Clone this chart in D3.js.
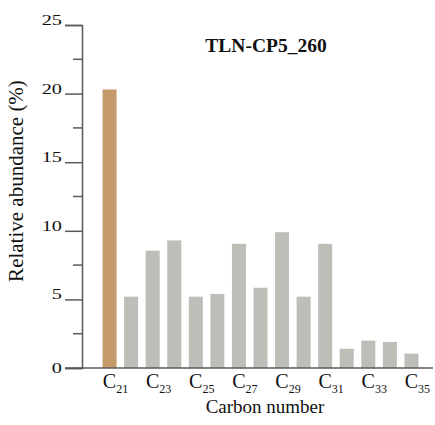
<!DOCTYPE html>
<html>
<head>
<meta charset="utf-8">
<script src="https://cdn.jsdelivr.net/npm/d3@7"></script>
<style>
  html, body { margin: 0; padding: 0; background: #fff; }
  svg { display: block; }
  text { font-family: "Liberation Serif", "Times New Roman", serif; fill: #111; }
</style>
</head>
<body>
<svg id="chart" width="435" height="425"></svg>
<script>
// Carbon numbers of the n-alkanes and their relative abundances (%)
const carbonNumbers = [21, 22, 23, 24, 25, 26, 27, 28, 29, 30, 31, 32, 33, 34, 35];
const abundance = [20.3, 5.2, 8.55, 9.3, 5.2, 5.4, 9.05, 5.85, 9.9, 5.2, 9.05, 1.4, 2.0, 1.9, 1.05];
const highlighted = [21];
const yTicks = [0, 5, 10, 15, 20, 25];
const yMinorTicks = [2.5, 7.5, 12.5, 17.5, 22.5];
const labelledCarbons = [21, 23, 25, 27, 29, 31, 33, 35];
const sampleName = "TLN-CP5_260";

const svg = d3.select("#chart");
const axisColor = "#5a5a5a";

const x = d3.scaleBand()
  .domain(carbonNumbers)
  .range([95, 426])
  .paddingInner(0.35)
  .paddingOuter(0.35);

const y = d3.scaleLinear().domain([0, 25]).range([368, 25]);

// bars
svg.append("g")
  .selectAll("rect")
  .data(carbonNumbers.map((c, i) => ({ c, v: abundance[i] })))
  .join("rect")
  .attr("x", d => x(d.c))
  .attr("y", d => y(d.v))
  .attr("width", x.bandwidth())
  .attr("height", d => y(0) - y(d.v))
  .attr("fill", d => highlighted.includes(d.c) ? "#c49a6b" : "#bdbeb8");

// x axis baseline
svg.append("line")
  .attr("x1", 65).attr("x2", 433)
  .attr("y1", y(0)).attr("y2", y(0))
  .attr("stroke", axisColor).attr("stroke-width", 1.5);

// y axis with major and minor ticks
const yAxis = svg.append("g").attr("transform", "translate(82,0)");
yAxis.call(d3.axisLeft(y).tickValues(yTicks).tickSize(17).tickFormat(""));
yAxis.call(g => g.selectAll(".tick line").attr("stroke", axisColor).attr("stroke-width", 1.5));
yAxis.call(g => g.select(".domain").attr("stroke", axisColor).attr("stroke-width", 1.5));
yAxis.selectAll(".minor")
  .data(yMinorTicks)
  .join("line")
  .attr("class", "minor")
  .attr("x1", -9).attr("x2", 0)
  .attr("y1", d => y(d)).attr("y2", d => y(d))
  .attr("stroke", axisColor).attr("stroke-width", 1.5);

// y tick labels sit on top of their tick, except the zero label
svg.append("g")
  .selectAll("text")
  .data(yTicks)
  .join("text")
  .attr("transform", d => `translate(62,${d === 0 ? y(d) + 5 : y(d)}) scale(1.45,1)`)
  .attr("text-anchor", "end")
  .attr("font-size", 14)
  .text(d => d);

// x tick labels: C with subscript carbon number
const xl = svg.append("g")
  .selectAll("text")
  .data(labelledCarbons)
  .join("text")
  .attr("x", d => x(d) + x.bandwidth() / 2 - 6.7)
  .attr("y", 388)
  .attr("font-size", 20);
xl.append("tspan").text("C");
xl.append("tspan").attr("font-size", 12).attr("dy", 5).text(d => d);

// axis titles
svg.append("text")
  .attr("x", 265).attr("y", 413)
  .attr("text-anchor", "middle")
  .attr("font-size", 19)
  .text("Carbon number");

svg.append("text")
  .attr("transform", "translate(23,181) rotate(-90)")
  .attr("text-anchor", "middle")
  .attr("font-size", 21)
  .text("Relative abundance (%)");

// sample name
svg.append("text")
  .attr("x", 266).attr("y", 52)
  .attr("text-anchor", "middle")
  .attr("font-size", 19.5)
  .attr("font-weight", "bold")
  .text(sampleName);
</script>
</body>
</html>
